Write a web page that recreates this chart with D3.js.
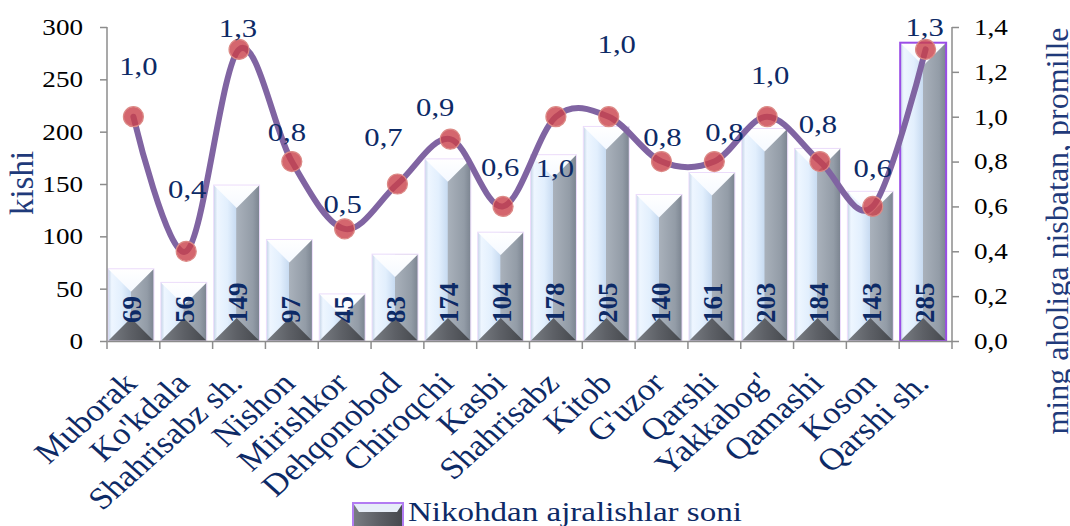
<!DOCTYPE html>
<html>
<head>
<meta charset="utf-8">
<script src="https://cdn.jsdelivr.net/npm/d3@7"></script>
<style>
  body { margin: 0; background: #fff; }
  text { font-family: "Liberation Serif", "Times New Roman", serif; }
</style>
</head>
<body>
<script>
// Chart data
var districts = ["Muborak", "Ko'kdala", "Shahrisabz sh.", "Nishon", "Mirishkor", "Dehqonobod",
                 "Chiroqchi", "Kasbi", "Shahrisabz", "Kitob", "G'uzor", "Qarshi", "Yakkabog'",
                 "Qamashi", "Koson", "Qarshi sh."];
var divorces = [69, 56, 149, 97, 45, 83, 174, 104, 178, 205, 140, 161, 203, 184, 143, 285];
var perThousand = [1.0, 0.4, 1.3, 0.8, 0.5, 0.7, 0.9, 0.6, 1.0, 1.0, 0.8, 0.8, 1.0, 0.8, 0.6, 1.3];
var leftTicks = [0, 50, 100, 150, 200, 250, 300];
var rightTicks = [0, 0.2, 0.4, 0.6, 0.8, 1.0, 1.2, 1.4];
var seriesName = "Nikohdan ajralishlar soni";

// hand-placed data label offsets (like in the original worksheet)
var labelShift = [[5, -42], [1, -53], [-1, -12], [-5, -21], [-2, -16], [-14, -38], [-15, -23], [-3, -30],
                  [-1, 60], [8, -64], [1, -16], [10, -21], [3, -33], [-2, -29], [0, -29], [-1, -13]];

var w = 1070, h = 526;
var padL = 107, padR = 952, padT = 27, padB = 341;
var sx = 1.18; // the original picture is a bit wider than tall, text looks stretched

var svg = d3.select("body").append("svg")
    .attr("width", w)
    .attr("height", h);

var x = d3.scaleBand().domain(districts).range([padL, padR]).padding(0);
var yL = d3.scaleLinear().domain([0, 300]).range([padB, padT]);
var yR = d3.scaleLinear().domain([0, 1.4]).range([padB, padT]);
var comma = function(v) { return d3.format(".1f")(v).replace(".", ","); };
var cx = function(i) { return x(districts[i]) + x.bandwidth() / 2; };

// gradients for the bevelled bars
var defs = svg.append("defs");
var body = defs.append("linearGradient").attr("id", "barBody").attr("x1", "0").attr("x2", "1").attr("y1", "0").attr("y2", "0");
[["0%", "#c3d3e6"], ["8%", "#eef6ff"], ["30%", "#e2effd"], ["49%", "#c8dbf1"],
 ["50%", "#a9b1bb"], ["85%", "#939ca7"], ["100%", "#7b8490"]].forEach(function(s) {
    body.append("stop").attr("offset", s[0]).attr("stop-color", s[1]);
});
var base = defs.append("linearGradient").attr("id", "barBase").attr("x1", "0").attr("x2", "1").attr("y1", "0").attr("y2", "0");
[["0%", "#7a7e84"], ["50%", "#5d6066"], ["100%", "#45484d"]].forEach(function(s) {
    base.append("stop").attr("offset", s[0]).attr("stop-color", s[1]);
});
var cap = defs.append("linearGradient").attr("id", "barCap").attr("x1", "0").attr("x2", "0").attr("y1", "0").attr("y2", "1");
[["0%", "#ffffff"], ["100%", "#f5f9ff"]].forEach(function(s) {
    cap.append("stop").attr("offset", s[0]).attr("stop-color", s[1]);
});

var bw = x.bandwidth() * 0.87;
var maxVal = d3.max(divorces);

// Bars
var bars = svg.append("g").selectAll("g")
    .data(districts)
    .enter()
    .append("g");

bars.each(function(d, i) {
    var g = d3.select(this);
    var x0 = x(d) + 1, x1 = x0 + bw, xm = (x0 + x1) / 2;
    var y0 = yL(divorces[i]), y1 = yL(0);
    var hw = bw / 2;
    var clipId = "clip" + i;
    defs.append("clipPath").attr("id", clipId)
        .append("rect").attr("x", x0).attr("y", y0).attr("width", bw).attr("height", y1 - y0);
    var inner = g.append("g").attr("clip-path", "url(#" + clipId + ")");
    inner.append("rect")
        .attr("x", x0).attr("y", y0).attr("width", bw).attr("height", y1 - y0)
        .attr("fill", "url(#barBody)");
    inner.append("polygon")
        .attr("points", [[x0, y0], [x1, y0], [xm, y0 + hw]].join(" "))
        .attr("fill", "url(#barCap)");
    inner.append("polygon")
        .attr("points", [[x0, y1], [x1, y1], [xm, y1 - hw]].join(" "))
        .attr("fill", "url(#barBase)");
    g.append("rect")
        .attr("x", x0).attr("y", y0).attr("width", bw).attr("height", y1 - y0)
        .attr("fill", "none")
        .attr("stroke", divorces[i] === maxVal ? "#9a4de6" : "#ecdcfb")
        .attr("stroke-width", divorces[i] === maxVal ? 2 : 1);
    // value inside the bar
    g.append("text")
        .attr("transform", "translate(" + (xm + 1) + "," + (y1 - 18) + ") rotate(-90)")
        .attr("dy", "0.35em")
        .attr("font-size", "27px")
        .attr("font-weight", "bold")
        .attr("fill", "#0d2a66")
        .text(divorces[i]);
});

// Axes
var axisColor = "#8c8c8c";
var gL = svg.append("g").attr("transform", "translate(" + padL + ",0)")
    .call(d3.axisLeft(yL).tickValues(leftTicks).tickSize(7));
var gR = svg.append("g").attr("transform", "translate(" + padR + ",0)")
    .call(d3.axisRight(yR).tickValues(rightTicks).tickSize(7).tickFormat(comma));
var gB = svg.append("g").attr("transform", "translate(0," + padB + ")")
    .call(d3.axisBottom(x).tickSize(0).tickFormat(""));

[gL, gR, gB].forEach(function(g) {
    g.select(".domain").attr("stroke", axisColor).attr("stroke-width", 1.5);
    g.selectAll(".tick line").attr("stroke", axisColor).attr("stroke-width", 1.5);
    g.selectAll(".tick text").attr("font-family", "Liberation Serif").attr("font-size", "23px").attr("fill", "#000")
        .attr("transform", "scale(" + sx + ",1)");
});
gL.selectAll(".tick text").attr("x", -24 / sx);
gR.selectAll(".tick text").attr("x", 22 / sx);
gL.select(".domain").attr("d", "M0," + padT + "V" + padB);
gR.select(".domain").attr("d", "M0," + padT + "V" + padB);

// category boundary ticks
svg.append("g").selectAll("line")
    .data(districts.concat(["end"]))
    .enter()
    .append("line")
    .attr("x1", function(d, i) { return padL + i * x.step(); })
    .attr("x2", function(d, i) { return padL + i * x.step(); })
    .attr("y1", padB)
    .attr("y2", padB + 8)
    .attr("stroke", axisColor)
    .attr("stroke-width", 1.5);

// category labels
svg.append("g").selectAll("text")
    .data(districts)
    .enter()
    .append("text")
    .attr("transform", function(d, i) { return "translate(" + (cx(i) + 5) + "," + (padB + 44) + ") scale(1.12,1) rotate(-45)"; })
    .attr("text-anchor", "end")
    .attr("font-size", "31px")
    .attr("fill", "#0d2a66")
    .text(function(d) { return d; });

// Line series (right axis)
var line = d3.line()
    .x(function(d, i) { return cx(i); })
    .y(function(d) { return yR(d); })
    .curve(d3.curveCardinal.tension(0));

svg.append("path")
    .datum(perThousand)
    .attr("d", line)
    .attr("fill", "none")
    .attr("stroke", "#8064a2")
    .attr("stroke-width", 6)
    .attr("stroke-linecap", "round");

svg.append("g").selectAll("circle")
    .data(perThousand)
    .enter()
    .append("circle")
    .attr("cx", function(d, i) { return cx(i); })
    .attr("cy", function(d) { return yR(d); })
    .attr("r", 10)
    .attr("fill", "#c9404a")
    .attr("fill-opacity", 0.8)
    .attr("stroke", "#dc8a86")
    .attr("stroke-width", 1.2);

svg.append("g").selectAll("text")
    .data(perThousand)
    .enter()
    .append("text")
    .attr("transform", function(d, i) {
        return "translate(" + (cx(i) + labelShift[i][0]) + "," + (yR(d) + labelShift[i][1]) + ") scale(" + sx + ",1)";
    })
    .attr("text-anchor", "middle")
    .attr("font-size", "26px")
    .attr("fill", "#0d2a66")
    .text(function(d) { return comma(d); });

// Axis titles
svg.append("text")
    .attr("transform", "translate(33,183) rotate(-90)")
    .attr("text-anchor", "middle")
    .attr("font-size", "33px")
    .attr("fill", "#1f3a7a")
    .text("kishi");

svg.append("text")
    .attr("transform", "translate(1068,231) rotate(-90)")
    .attr("text-anchor", "middle")
    .attr("font-size", "32px")
    .attr("fill", "#1f3a7a")
    .text("ming aholiga nisbatan, promille");

// Legend
var lg = svg.append("g").attr("transform", "translate(353,503)");
lg.append("rect").attr("width", 50).attr("height", 24).attr("fill", "url(#barBase)");
lg.append("polygon").attr("points", "0,0 50,0 44,9 6,9").attr("fill", "#e6eef8");
lg.append("rect").attr("width", 50).attr("height", 24).attr("fill", "none")
    .attr("stroke", "#b27cf2").attr("stroke-width", 2);
lg.append("text")
    .attr("transform", "translate(55,18) scale(" + sx + ",1)")
    .attr("font-size", "28px")
    .attr("fill", "#0d2a66")
    .text(seriesName);
</script>
</body>
</html>
